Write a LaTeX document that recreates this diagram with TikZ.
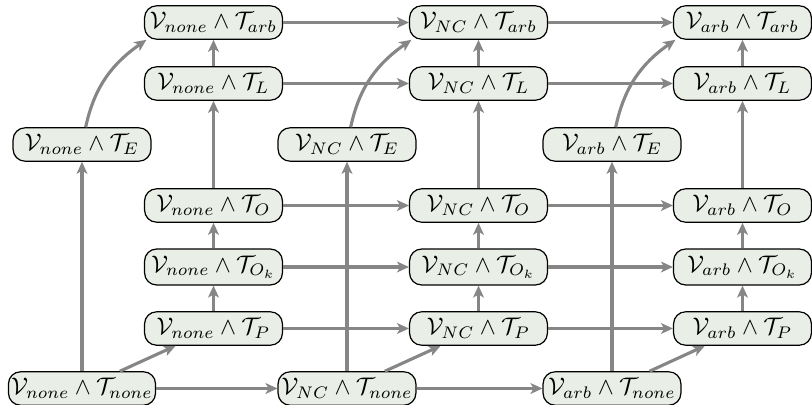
\documentclass[tikz,border=0pt]{standalone}
\usetikzlibrary{arrows.meta}
\definecolor{nodefill}{RGB}{233,238,230}
\definecolor{arrgray}{RGB}{134,134,134}
\begin{document}
\begin{tikzpicture}[x=0.01466cm,y=-0.01466cm,
  st/.style={draw=black, fill=nodefill, rounded corners=5pt, inner xsep=1.2pt, inner ysep=2.8pt, minimum width=57.5pt, line width=0.5pt},
  ar/.style={draw=arrgray, line width=1.3pt, -{Stealth[length=5pt,width=4.5pt,inset=1.3pt]}}]
\useasboundingbox (0,0) rectangle (812,404);
\foreach \cc/\xx/\lx/\vv in {A/213.5/82/none, B/478.5/347/NC, C/742.5/612/arb} {
  \node[st] (\cc arb) at (\xx,22.5) {$\mathcal{V}_{\vv}\wedge\mathcal{T}_{arb}$};
  \node[st] (\cc L) at (\xx,83.5) {$\mathcal{V}_{\vv}\wedge\mathcal{T}_{L}$};
  \node[st] (\cc E) at (\lx,144.5) {$\mathcal{V}_{\vv}\wedge\mathcal{T}_{E}$};
  \node[st] (\cc O) at (\xx,205.5) {$\mathcal{V}_{\vv}\wedge\mathcal{T}_{O}$};
  \node[st] (\cc Ok) at (\xx,267) {$\mathcal{V}_{\vv}\wedge\mathcal{T}_{O_k}$};
  \node[st] (\cc P) at (\xx,328.5) {$\mathcal{V}_{\vv}\wedge\mathcal{T}_{P}$};
  \node[st] (\cc none) at (\lx,388.5) {$\mathcal{V}_{\vv}\wedge\mathcal{T}_{none}$};
  \draw[ar] (\cc none) -- (\cc P);
  \draw[ar] (\cc none) -- (\cc E);
  \draw[ar] (\cc E) to[out=78,in=-145] ([xshift=1pt]\cc arb.south west);
  \draw[ar] (\cc P) -- (\cc Ok);
  \draw[ar] (\cc Ok) -- (\cc O);
  \draw[ar] (\cc O) -- (\cc L);
  \draw[ar] (\cc L) -- (\cc arb);
}
\foreach \r in {arb,L,O,Ok,P,none} {
  \draw[ar] (A\r) -- (B\r);
  \draw[ar] (B\r) -- (C\r);
}
\end{tikzpicture}
\end{document}
